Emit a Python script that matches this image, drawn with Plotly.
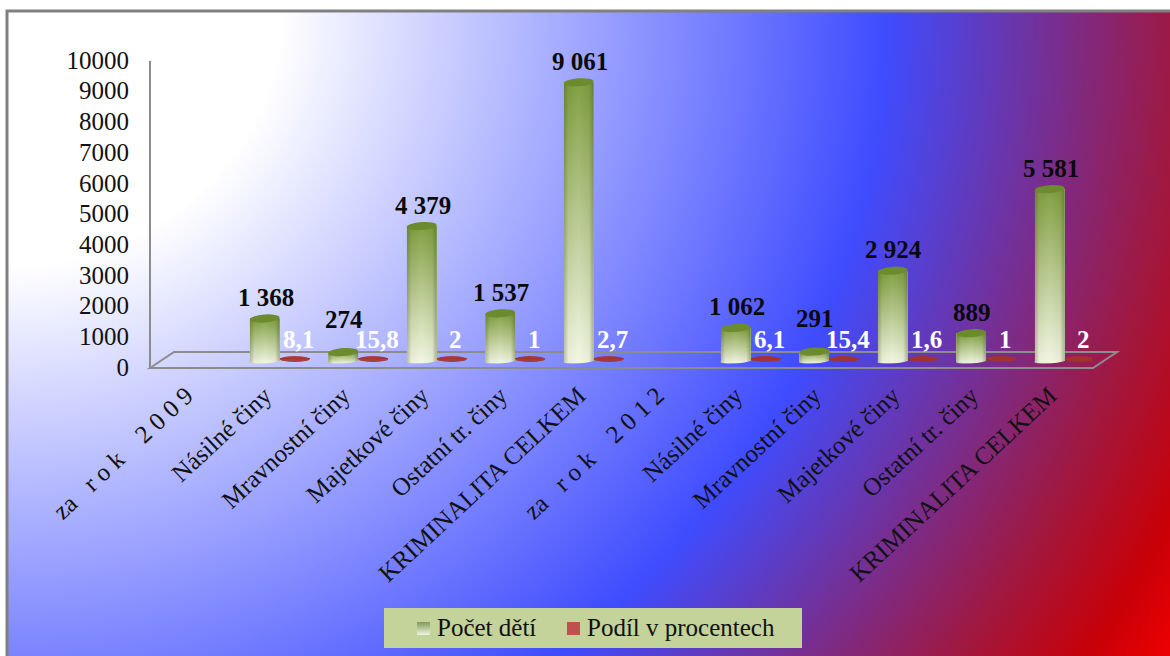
import base64
import plotly.graph_objects as go

categories = ["za\u00a0\u00a0\u00a0r o k\u00a0\u00a0\u00a0\u00a02 0 0 9", "Násilné činy", "Mravnostní činy", "Majetkové činy",
              "Ostatní tr. činy", "KRIMINALITA CELKEM",
              "za\u00a0\u00a0\u00a0r o k\u00a0\u00a0\u00a0\u00a02 0 1 2", "Násilné činy", "Mravnostní činy", "Majetkové činy",
              "Ostatní tr. činy", "KRIMINALITA CELKEM"]
pocet_deti = [None, 1368, 274, 4379, 1537, 9061, None, 1062, 291, 2924, 889, 5581]
pocet_text = [None, "1 368", "274", "4 379", "1 537", "9 061", None, "1 062", "291", "2 924", "889", "5 581"]
podil = [None, 8.1, 15.8, 2, 1, 2.7, None, 6.1, 15.4, 1.6, 1, 2]
podil_text = [None, "8,1", "15,8", "2", "1", "2,7", None, "6,1", "15,4", "1,6", "1", "2"]
legend_names = ["Počet dětí", "Podíl v procentech"]

W, H = 1170, 656
L, R, T, B = 150, 78, 60, 289
PW, PH = W - L - R, H - T - B
CAT = PW / 12
UNIT = PH / 10000          # px per value unit
BASE = 6.5 / UNIT          # cylinders stand slightly above the front edge
BAR_W = 30 / CAT
GREEN_DX = -3 / CAT
RED_DX = 27 / CAT
SERIF = "Liberation Serif"


def px(x):
    return (x - L) / PW


def py(y):
    return (T + PH - y) / PH


def uri(svg):
    return "data:image/svg+xml;base64," + base64.b64encode(svg.encode()).decode()


def cylinder(h):
    w, cap, foot = 30, 5, 3
    total = h + cap + foot
    return uri(f'''<svg xmlns="http://www.w3.org/2000/svg" width="{w}" height="{total}" viewBox="0 0 {w} {total}" preserveAspectRatio="none">
<defs><linearGradient id="v" x1="0" y1="0" x2="0" y2="1"><stop offset="0" stop-color="#7d9c3c"/><stop offset="1" stop-color="#f3f7e4"/></linearGradient>
<linearGradient id="s" x1="0" y1="0" x2="1" y2="0"><stop offset="0" stop-color="#3e4a20" stop-opacity=".38"/><stop offset=".18" stop-color="#3e4a20" stop-opacity=".04"/>
<stop offset=".5" stop-color="#fff" stop-opacity=".05"/><stop offset=".85" stop-color="#3e4a20" stop-opacity=".05"/><stop offset="1" stop-color="#3e4a20" stop-opacity=".38"/></linearGradient></defs>
<path d="M0 {cap} V{h + cap} A15 {foot} -4 0 0 {w} {h + cap} V{cap} Z" fill="url(#v)"/>
<path d="M0 {cap} V{h + cap} A15 {foot} -4 0 0 {w} {h + cap} V{cap} Z" fill="url(#s)"/>
<ellipse cx="15" cy="{cap}" rx="15" ry="{cap - 1}" fill="#6c8a2e" transform="rotate(-4 15 {cap})"/>
</svg>''')


background = uri(f'''<svg xmlns="http://www.w3.org/2000/svg" width="{W}" height="{H}" viewBox="0 0 {W} {H}" preserveAspectRatio="none">
<defs><radialGradient id="g" gradientUnits="userSpaceOnUse" cx="0" cy="0" r="1" gradientTransform="translate(7 11) scale(1363 1275)">
<stop offset="0" stop-color="#fff"/><stop offset=".2" stop-color="#fff"/><stop offset=".645" stop-color="#3f4cff"/>
<stop offset=".86" stop-color="#a01840"/><stop offset=".94" stop-color="#c80008"/><stop offset="1" stop-color="#f40000"/></radialGradient></defs>
<rect x="7" y="11" width="{W}" height="{H}" fill="url(#g)"/></svg>''')

x_vals = list(range(len(categories)))
fig = go.Figure()
fig.add_bar(x=x_vals, y=pocet_deti, base=BASE, name=legend_names[0], width=BAR_W, offset=GREEN_DX - BAR_W / 2,
            marker=dict(color="#a9bd80", line_width=0))
fig.add_bar(x=x_vals, y=podil, base=8 / UNIT, name=legend_names[1], width=BAR_W, offset=RED_DX - BAR_W / 2,
            marker=dict(color="#a3332e", line_width=0))

images = [dict(source=background, xref="paper", yref="paper", x=px(0), y=py(0), sizex=W / PW, sizey=H / PH,
               xanchor="left", yanchor="top", sizing="stretch", layer="below")]
shapes = [
    dict(type="rect", xref="paper", yref="paper", x0=px(7), y0=py(11), x1=px(W + 5), y1=py(H + 5),
         line=dict(color="#808080", width=3), layer="below"),
    dict(type="path", xref="paper", yref="paper",
         path=f"M{px(150)},{py(368)} L{px(174)},{py(352)} L{px(1117)},{py(352)} L{px(1093)},{py(368)} Z",
         line=dict(color="#8c8c8c", width=2), layer="below"),
    dict(type="line", xref="paper", yref="paper", x0=px(150), x1=px(150), y0=py(61), y1=py(368),
         line=dict(color="#8c8c8c", width=2), layer="below"),
    dict(type="rect", xref="paper", yref="paper", x0=px(384), x1=px(802), y0=py(608), y1=py(648),
         fillcolor="#c3d39a", line_width=0, layer="below"),
    dict(type="rect", xref="paper", yref="paper", x0=px(567), x1=px(580), y0=py(622), y1=py(635),
         fillcolor="#c0504d", line_width=0, layer="above"),
]
annotations = []
for i, (v, t, p, pt) in enumerate(zip(pocet_deti, pocet_text, podil, podil_text)):
    if v is None:
        continue
    h = v * UNIT
    images.append(dict(source=cylinder(round(h, 1)), xref="x", yref="y", x=i + GREEN_DX, y=v + BASE + 5 / UNIT,
                       sizex=BAR_W, sizey=(h + 8) / UNIT, xanchor="center", yanchor="top",
                       sizing="stretch", layer="above"))
    shapes.append(dict(type="circle", xref="x", yref="y", x0=i + RED_DX - BAR_W / 2, x1=i + RED_DX + BAR_W / 2,
                       y0=5 / UNIT, y1=11 / UNIT, fillcolor="#a3332e", line_width=0,
                       opacity=0.9, layer="above"))
    annotations.append(dict(x=i + GREEN_DX, y=v + BASE, xref="x", yref="y", text=t, showarrow=False,
                            yshift=21 + (12 if v < 500 else 0), xshift=1,
                            font=dict(family=SERIF, size=25, color="#0a0a0a", weight="bold")))
    annotations.append(dict(x=i + RED_DX, y=BASE, xref="x", yref="y", text=pt, showarrow=False, yshift=21, xshift=4,
                            font=dict(family=SERIF, size=25, color="#ffffff", weight="bold")))

# Legend drawn to the reference's tight spacing
images.append(dict(source=uri('''<svg xmlns="http://www.w3.org/2000/svg" width="13" height="13"><defs><linearGradient id="l" x1="0" y1="0" x2="0" y2="1"><stop offset="0" stop-color="#7f9a55"/><stop offset="1" stop-color="#f0f5df"/></linearGradient></defs><rect width="13" height="13" fill="url(#l)"/></svg>'''),
                   xref="paper", yref="paper", x=px(417), y=py(622), sizex=13 / PW, sizey=13 / PH,
                   xanchor="left", yanchor="top", sizing="stretch", layer="above"))
annotations.append(dict(x=px(435), y=py(627), xref="paper", yref="paper", text=legend_names[0], showarrow=False,
                        xanchor="left", yanchor="middle", font=dict(family=SERIF, size=25, color="#111111")))
annotations.append(dict(x=px(585), y=py(627), xref="paper", yref="paper", text=legend_names[1], showarrow=False,
                        xanchor="left", yanchor="middle", font=dict(family=SERIF, size=25, color="#111111")))

fig.update_layout(
    width=W, height=H, autosize=False,
    margin=dict(l=L, r=R, t=T, b=B),
    paper_bgcolor="#ffffff", plot_bgcolor="rgba(0,0,0,0)",
    barmode="overlay", bargap=0,
    images=images, shapes=shapes, annotations=annotations,
    showlegend=False,
    xaxis=dict(range=[-0.5, 11.5], tickmode="array", tickvals=x_vals, ticktext=categories, tickangle=-43,
               showgrid=False, zeroline=False, showline=False, ticks="",
               tickfont=dict(family=SERIF, size=25, color="#111111"), ticklabelstandoff=8, ticklabelshift=-3),
    yaxis=dict(range=[0, 10000], tickmode="linear", dtick=1000, tickformat="d", showgrid=False, zeroline=False,
               showline=False, ticks="outside", ticklen=15, tickcolor="rgba(0,0,0,0)",
               tickfont=dict(family=SERIF, size=25, color="#111111")),
)
fig.write_html("out.html", config={"displayModeBar": False}, post_script="document.body.style.margin='0';")
